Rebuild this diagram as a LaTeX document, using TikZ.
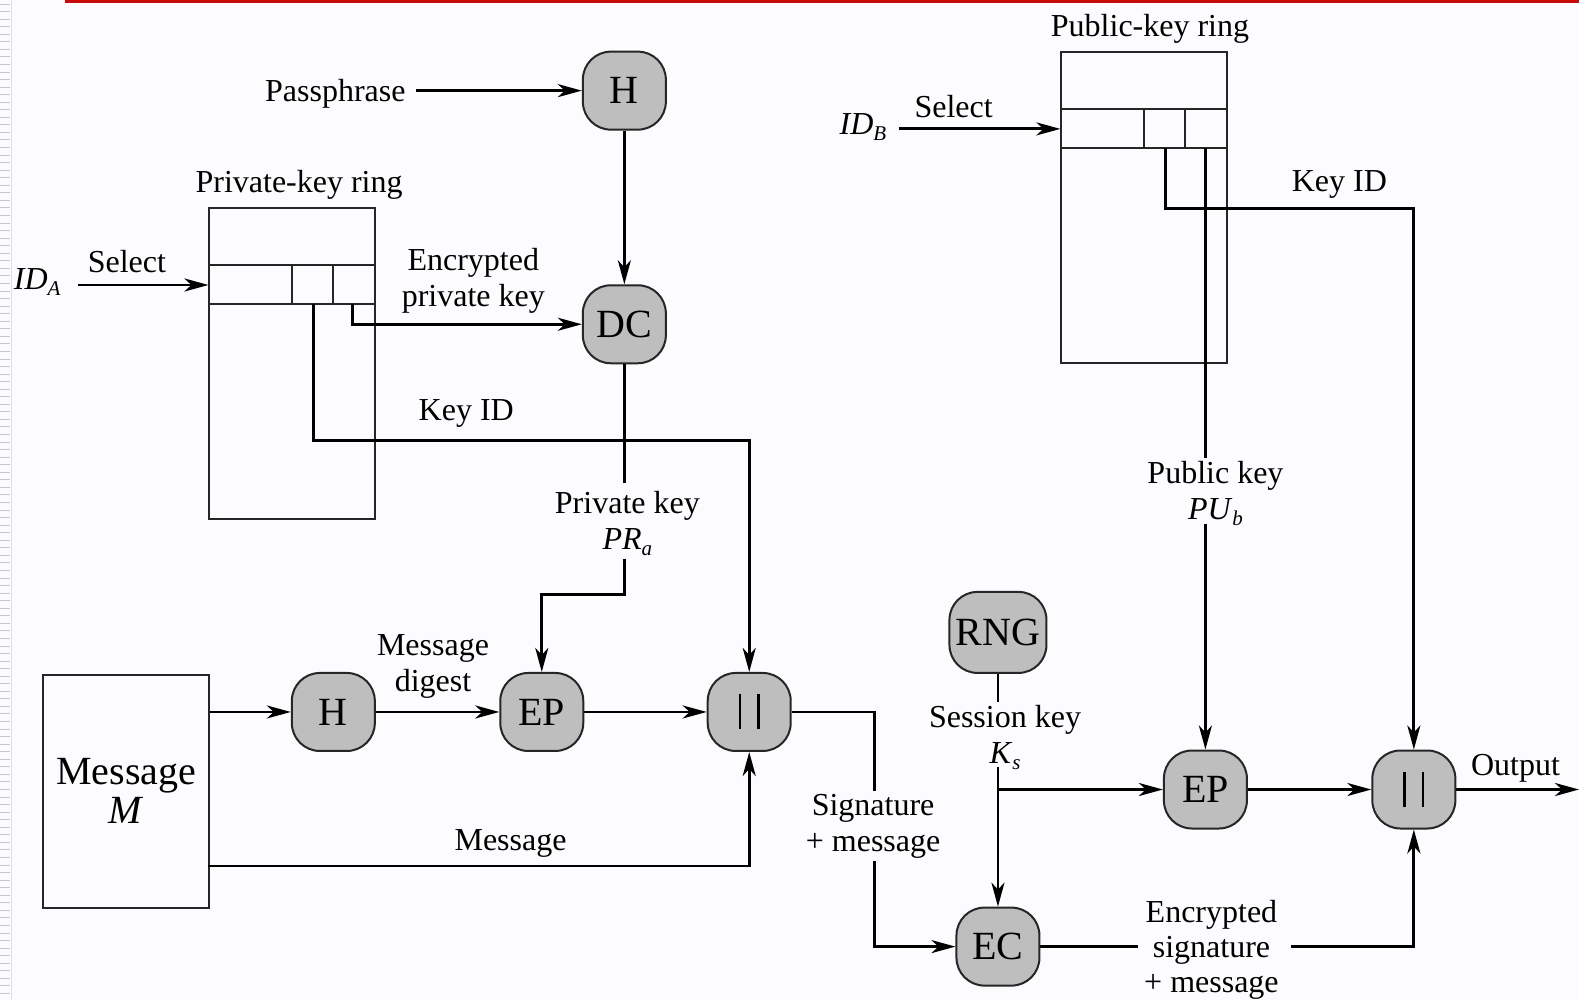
\documentclass[tikz,border=0pt]{standalone}
\usepackage{fontspec}
\setmainfont{Liberation Serif}
\usetikzlibrary{arrows.meta,calc}
\definecolor{procgray}{RGB}{190,190,190}
\definecolor{bgcol}{RGB}{252,251,253}
\definecolor{topred}{RGB}{200,10,10}
\newcommand{\subit}[1]{\raisebox{-0.4ex}{\fontsize{21}{21}\selectfont\textit{#1}}}
\newcommand{\catbars}{\raisebox{-2pt}{\rule{2.6pt}{35pt}}\hspace{16pt}\raisebox{-2pt}{\rule{2.6pt}{35pt}}}
\begin{document}
\begin{tikzpicture}[x=1.007pt,y=-1.007pt,
  proc/.style={draw=black!85, line width=2pt, fill=procgray, rounded corners=28pt,
    minimum width=83pt, minimum height=78pt, inner sep=0pt, font=\fontsize{40}{44}\selectfont},
  ringbox/.style={draw=black!85, line width=2pt, inner sep=0pt},
  conn/.style={line width=2.9pt},
  arr/.style={conn, -{Stealth[length=24pt,width=13pt,inset=7pt]}},
  lbl/.style={font=\fontsize{32}{36}\selectfont, align=center, inner sep=0pt}]
% background and frame decorations
\fill[bgcol] (0,0) rectangle (1568,993);
\useasboundingbox (0,0) rectangle (1568,993);
\fill[topred] (65,0) rectangle (1568,2.5);
\foreach \yy in {4,11.5,...,993} \draw[black!22, line width=1pt] (0,\yy) -- (10,\yy);
\draw[black!12, line width=0.8pt] (11,0) -- (11,993);

% ---- private key side ----
\node[proc] (H1) at (620,90) {H};
\node[proc] (DC) at (620,322) {DC};
\node[lbl] (pp) at (333,93) {Passphrase};
\draw[arr] (413,90) -- (H1.west);
\draw[arr] (H1) -- (DC);

\node[ringbox, minimum width=166pt, minimum height=311pt, anchor=north west] (PKR) at (207,206) {};
\node[lbl, anchor=south] (pkrl) at (297,198) {Private-key ring};
\draw[draw=black!85, line width=2pt] (207,263) -- (372,263) (207,302) -- (372,302)
  (290,263) -- (290,302) (331,263) -- (331,302);
\node[lbl] (ida) at (37,280) {\textit{ID}\subit{A}};
\node[lbl] (sela) at (126,260) {Select};
\coordinate (idaS) at (77,283);
\draw[arr] (idaS) -- (PKR.west |- idaS);
\coordinate (pkc3) at (350,302);
\draw[arr] (pkc3) -- (350,322) -- (DC.west);
\node[lbl] (epk) at (470,279) {Encrypted\\private key};
\coordinate (pkc2) at (311,302);
\node[lbl] (kida) at (463,411) {Key ID};

\node[lbl] (prk) at (623,520) {Private key\\\textit{PR}\subit{a}};
\draw[conn] (DC.south) -- (620,480);

% ---- message side ----
\node[ringbox, minimum width=166pt, minimum height=233pt, anchor=north west,
  font=\fontsize{40}{39}\selectfont, align=center] (MB) at (42,669) {Message\\\textit{M}};
\node[proc] (H2) at (331,707) {H};
\node[proc] (EP1) at (538,707) {EP};
\node[proc] (C1) at (744,707) {\catbars};
\draw[arr] (MB.east |- H2) -- (H2.west);
\draw[arr] (H2) -- (EP1);
\node[lbl] (md) at (430,662) {Message\\digest};
\draw[arr] (EP1) -- (C1);
\draw[arr] (620,555) -- (620,590) -- (538,590) -- (EP1.north);
\draw[arr] (pkc2) -- (311,437) -- (744,437) -- (C1.north);
\coordinate (mbm) at (207,860);
\draw[arr] (mbm) -- (744,860) -- (C1.south);
\node[lbl] (msg) at (507,838) {Message};

\node[lbl] (sig) at (867,821) {Signature\\+ message};
\draw[conn] (C1.east) -- (868,707) -- (868,785);

% ---- session key side ----
\node[proc, minimum width=97pt, minimum height=81pt] (RNG) at (991,628) {RNG};
\node[proc] (EC) at (991,940) {EC};
\node[proc] (EP2) at (1197,784) {EP};
\node[proc] (C2) at (1404,784) {\catbars};
\draw[arr] (868,855) -- (868,940) -- (EC.west);
\draw[conn] (RNG.south) -- (991,697);
\node[lbl] (sk) at (998,732) {Session key\\\textit{K}\subit{s}};
\draw[arr] (991,762) -- (EC.north);
\draw[arr] (991,784) -- (EP2.west);
\draw[arr] (EP2) -- (C2);
\draw[conn] (EC.east) -- (1130,940);
\node[lbl, font=\fontsize{32}{35}\selectfont] (esm) at (1203,943) {Encrypted\\signature\\+ message};
\draw[arr] (1282,940) -- (1404,940) -- (C2.south);
\coordinate (outE) at (1568,784);
\draw[arr] (C2.east) -- (outE);
\node[lbl] (out) at (1505,763) {Output};

% ---- public key ring ----
\node[ringbox, minimum width=166pt, minimum height=311pt, anchor=north west] (PUR) at (1053,51) {};
\node[lbl, anchor=south] (purl) at (1142,43) {Public-key ring};
\draw[draw=black!85, line width=2pt] (1053,108) -- (1218,108) (1053,147) -- (1218,147)
  (1136,108) -- (1136,147) (1177,108) -- (1177,147);
\node[lbl] (idb) at (857,126) {\textit{ID}\subit{B}};
\node[lbl] (selb) at (947,106) {Select};
\coordinate (idbS) at (893,128);
\draw[arr] (idbS) -- (PUR.west |- idbS);
\coordinate (puc2) at (1157,147);
\coordinate (puc3) at (1197,147);
\draw[arr] (puc2) -- (1157,207) -- (1404,207) -- (C2.north);
\node[lbl] (kidb) at (1330,183) {Key ID};
\draw[conn] (puc3) -- (1197,455);
\node[lbl] (puk) at (1207,490) {Public key\\\textit{PU}\subit{b}};
\draw[arr] (1197,520) -- (EP2.north);
\end{tikzpicture}
\end{document}
